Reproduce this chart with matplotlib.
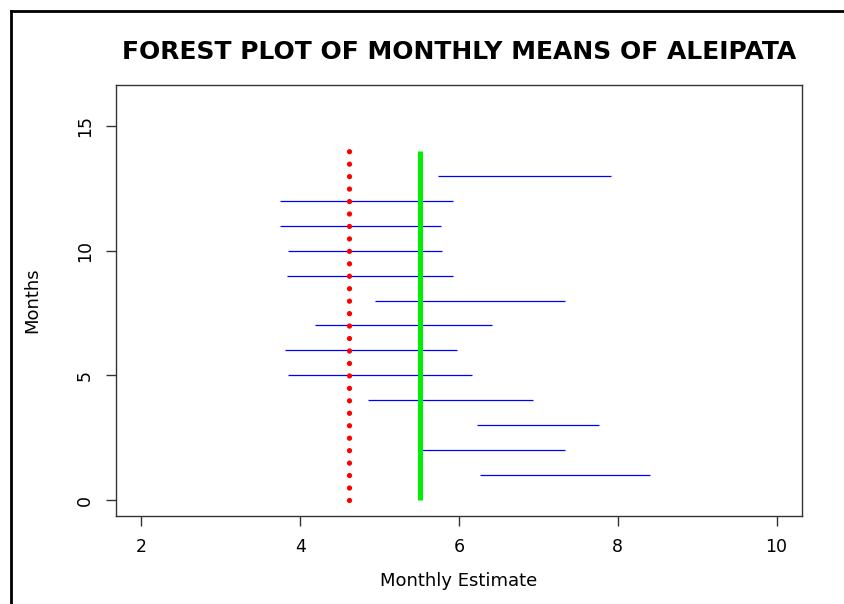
import numpy as np
import matplotlib
matplotlib.use("Agg")
import matplotlib.pyplot as plt
from matplotlib.lines import Line2D

plt.rcParams['font.family'] = ['DejaVu Sans']

# monthly intervals (lower / upper) by row
months = [1, 2, 3, 4, 5, 6, 7, 8, 9, 10, 11, 12, 13]
lower = [6.27, 5.52, 6.23, 4.85, 3.85, 3.81, 4.19, 4.94, 3.83, 3.85, 3.74, 3.75, 5.73]
upper = [8.41, 7.34, 7.76, 6.93, 6.16, 5.97, 6.41, 7.34, 5.92, 5.78, 5.77, 5.93, 7.92]

ref_red = 4.62
ref_green = 5.51
ref_top = 14

fig = plt.figure(figsize=(8.44, 6.04), dpi=100)
ax = fig.add_axes([116 / 844, 88 / 604, 686 / 844, 431 / 604])

ax.hlines(months, lower, upper, colors='blue', linewidth=0.9)
ax.vlines(ref_red, 0, ref_top, colors='red', linewidth=3.8,
          linestyles=(0, (0.01, 2.35)), capstyle='round')
ax.vlines(ref_green, 0, ref_top, colors='#00ee00', linewidth=3.6)

# R-style 4% padding around the data range
ax.set_xlim(2 - 0.32, 10 + 0.32)
ax.set_ylim(0 - 0.64, 16 + 0.64)
ax.set_xticks([2, 4, 6, 8, 10])
ax.set_yticks([0, 5, 10, 15])
ax.tick_params(direction='out', length=7, width=1, colors='#333333',
               labelcolor='black', labelsize=12.5, pad=9)
for lab in ax.get_yticklabels():
    lab.set_rotation(90)
    lab.set_va('center')
for sp in ax.spines.values():
    sp.set_color('#333333')
    sp.set_linewidth(1)

ax.set_xlabel('Monthly Estimate', fontsize=13, labelpad=11)
ax.set_ylabel('Months', fontsize=13, labelpad=25)
ax.set_title('FOREST PLOT OF MONTHLY MEANS OF ALEIPATA', fontsize=18,
             fontweight='bold', pad=19)

# frame around the page (left and top edges)
fig.add_artist(Line2D([11 / 844, 11 / 844], [0, 1 - 11 / 604],
                      transform=fig.transFigure, color='black', linewidth=2))
fig.add_artist(Line2D([11 / 844, 1], [1 - 11 / 604, 1 - 11 / 604],
                      transform=fig.transFigure, color='black', linewidth=2))

fig.savefig('out.png', dpi=100)
